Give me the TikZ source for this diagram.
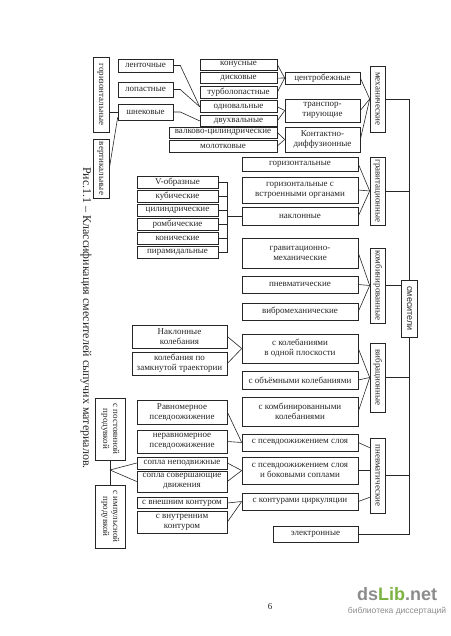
\documentclass[tikz,border=0pt]{standalone}
\usepackage{fontspec}
\setmainfont{Liberation Serif}
\setsansfont{Liberation Sans}
\usepackage{graphicx}
\usetikzlibrary{positioning}
\definecolor{ink}{HTML}{262626}
\definecolor{libgreen}{HTML}{7CB342}
\definecolor{libgray}{HTML}{8C8C8C}
\newcommand{\vlabel}[1]{\rotatebox{-90}{\begin{tabular}{@{}c@{}}#1\end{tabular}}}

\begin{document}
\begin{tikzpicture}[
    x=1pt, y=-1pt,
    every node/.style={font=\fontsize{9}{10}\selectfont, text=ink},
    box/.style={
        rectangle,
        draw=ink,
        line width=0.6pt,
        inner sep=0pt,
        align=center
    },
    wh/.style 2 args={minimum width=#1, minimum height=#2},
    link/.style={draw=ink, line width=0.6pt}
]
\useasboundingbox (0,0) rectangle (450,636);

% mechanical
\node[box, wh={16}{75}] (hor) at (101,94.5) {\vlabel{горизонтальные}};
\node[box, wh={16}{59}] (vert) at (101,168.5) {\vlabel{вертикальные}};
\node[box, wh={55}{13}] (lent) at (145.5,65.5) {ленточные};
\node[box, wh={55}{15}] (lop) at (145.5,89.5) {лопастные};
\node[box, wh={55}{16}] (shnek) at (145.5,112) {шнековые};
\node[box, wh={77}{11}] (kon) at (238.5,64.5) {конусные};
\node[box, wh={77}{11}, below=2pt of kon] (disk) {дисковые};
\node[box, wh={77}{12}, below=2pt of disk] (turbo) {турболопастные};
\node[box, wh={77}{12}, below=2pt of turbo] (odn) {одновальные};
\node[box, wh={77}{11}, below=2pt of odn] (dvuh) {двухвальные};
\node[box, wh={108}{11}] (valk) at (223,132.5) {валково-цилиндрические};
\node[box, wh={108}{12}] (molot) at (223,146) {молотковые};
\node[box, wh={75}{12}] (centr) at (322.5,78) {центробежные};
\node[box, wh={75}{23}] (transp) at (322.5,110.5) {транспор-\\тирующие};
\node[box, wh={75}{25}] (kontakt) at (322.5,139.5) {Контактно-\\диффузионные};
\node[box, wh={15}{66}] (meh) at (377.5,99) {\vlabel{механические}};

% gravitational
\node[box, wh={116}{14}] (gor) at (300,164) {горизонтальные};
\node[box, wh={116}{26}] (gorvstr) at (300,190) {горизонтальные с\\встроенными органами};
\node[box, wh={116}{18}] (nakl) at (300,216) {наклонные};
\node[box, wh={15}{68}] (grav) at (377.5,191) {\vlabel{гравитационные}};
\node[box, wh={81}{12}] (v1) at (177.5,182) {V-образные};
\node[box, wh={81}{12}, below=1.5pt of v1] (v2) {кубические};
\node[box, wh={81}{12}, below=1.5pt of v2] (v3) {цилиндрические};
\node[box, wh={81}{12}, below=1.5pt of v3] (v4) {ромбические};
\node[box, wh={81}{12}, below=1.5pt of v4] (v5) {конические};
\node[box, wh={81}{12}, below=1.5pt of v5] (v6) {пирамидальные};
\coordinate (vbr) at (227,216);

% combined
\node[box, wh={116}{30}] (gravmeh) at (300,253) {гравитационно-\\механические};
\node[box, wh={116}{17}] (pnevm) at (300,284.5) {пневматические};
\node[box, wh={116}{17}] (vibromeh) at (300,311.5) {вибромеханические};
\node[box, wh={15}{75}] (komb) at (377.5,285.5) {\vlabel{комбинированные}};
\node[box, wh={16}{57}, font=\sffamily\fontsize{9}{10}\selectfont] (smes) at (409,308.5) {\vlabel{смесители}};

% vibrational
\node[box, wh={95}{23}] (naklkol) at (179.5,336.5) {Наклонные\\колебания};
\node[box, wh={95}{23}] (zamk) at (179.5,363.5) {колебания по\\замкнутой траектории};
\node[box, wh={116}{29}] (kol1) at (300,348.5) {с колебаниями\\в одной плоскости};
\node[box, wh={116}{18}] (obem) at (300,380) {с объёмными колебаниями};
\node[box, wh={116}{29}] (kombkol) at (300,411.5) {с комбинированными\\колебаниями};
\node[box, wh={15}{69}] (vib) at (377.5,377.5) {\vlabel{вибрационные}};

% pneumatic
\node[box, wh={116}{17}] (psevd) at (300,442.5) {с псевдоожижением слоя};
\node[box, wh={116}{27}] (bok) at (300,470.5) {с псевдоожижением слоя\\и боковыми соплами};
\node[box, wh={116}{17}] (kont) at (300,501.5) {с контурами циркуляции};
\node[box, wh={15}{75}] (pnevmat) at (377.5,475.5) {\vlabel{пневматические}};
\node[box, wh={85}{16}] (elektr) at (315.5,534) {электронные};
\node[box, wh={90}{24}] (ravn) at (182,412) {Равномерное\\псевдоожижение};
\node[box, wh={90}{23}] (neravn) at (182,441.5) {неравномерное\\псевдоожижение};
\node[box, wh={90}{12}] (sopla1) at (182,463) {сопла неподвижные};
\node[box, wh={90}{21}] (sopla2) at (182,481.5) {сопла совершающие\\движения};
\node[box, wh={90}{11}] (vnesh) at (182,503) {с внешним контуром};
\node[box, wh={90}{22}] (vnutr) at (182,522) {с внутренним\\контуром};
\node[box, wh={30}{62}] (post) at (110,429) {\vlabel{с постоянной\\продувкой}};
\node[box, wh={30}{63}] (impuls) at (110,516.5) {\vlabel{с импульсной\\продувкой}};
\coordinate (pbr) at (110,470);

% caption, page, stamp
\node[font=\fontsize{12}{14}\selectfont, rotate=-90] (caption) at (86,318) {Рис.1.1 – Классификация смесителей сыпучих материалов.};
\node (pagenum) at (270,607) {6};
\node[font=\sffamily\bfseries\fontsize{18}{19}\selectfont, text=libgray] (dslib) at (397,594) {ds\textcolor{libgreen}{Lib}.net};
\node[font=\sffamily\fontsize{8.5}{9}\selectfont, text=libgray, below=0pt of dslib] (dslibsub) {библиотека диссертаций};

% LINKS
\draw[link] (hor.east |- shnek.west) -- (shnek.west);
\draw[link] ([yshift=3pt]shnek.south west) -- (vert.east);
\draw[link] (lent.east) -- ++(7,0) -- (odn.west);
\draw[link] (lop.east) -- ++(7,0) -- (odn.west);
\draw[link] (shnek.east) -- ++(7,0) -- (dvuh.west);
\foreach \n in {kon,disk,turbo} \draw[link] (\n.east) -- (centr.west);
\foreach \n in {odn,dvuh} \draw[link] (\n.east) -- (transp.west);
\foreach \n in {valk,molot} \draw[link] (\n.east) -- (kontakt.west);
\foreach \n in {centr,transp,kontakt} \draw[link] (\n.east) -- (meh.west);

\foreach \n in {v1,v2,v3,v4,v5,v6} \draw[link] (\n.east) -| (vbr);
\draw[link] (vbr) -- (nakl.west);
\foreach \n in {gor,gorvstr,nakl} \draw[link] (\n.east) -- (grav.west);
\foreach \n in {gravmeh,pnevm,vibromeh} \draw[link] (\n.east) -- (komb.west);

\foreach \n in {naklkol,zamk} \draw[link] (\n.east) -- (kol1.west);
\foreach \n in {kol1,obem,kombkol} \draw[link] (\n.east) -- (vib.west);

\foreach \n in {ravn,neravn} \draw[link] (\n.east) -- (psevd.west);
\foreach \n in {sopla1,sopla2} \draw[link] (\n.east) -- (bok.west);
\foreach \n in {vnesh,vnutr} \draw[link] (\n.east) -- (kont.west);
\draw[link] (post.south) -- (impuls.north);
\foreach \n in {sopla1,sopla2} \draw[link] (pbr) -- (\n.west);
\draw[link] (psevd.east) -- ([yshift=-10pt]pnevmat.north west);
\draw[link] (bok.east) -- (bok.east -| pnevmat.west);
\draw[link] (kont.east) -- ([yshift=16pt]pnevmat.south west);

% trunk
\draw[link] (meh.east) -| (smes.north);
\draw[link] (grav.east) -- (grav.east -| smes.north);
\draw[link] (komb.east) -- (komb.east -| smes.west);
\draw[link] (vib.east) -- (vib.east -| smes.south);
\draw[link] (pnevmat.east) -- (pnevmat.east -| smes.south);
\draw[link] (elektr.east) -| (smes.south);

\end{tikzpicture}
\end{document}
